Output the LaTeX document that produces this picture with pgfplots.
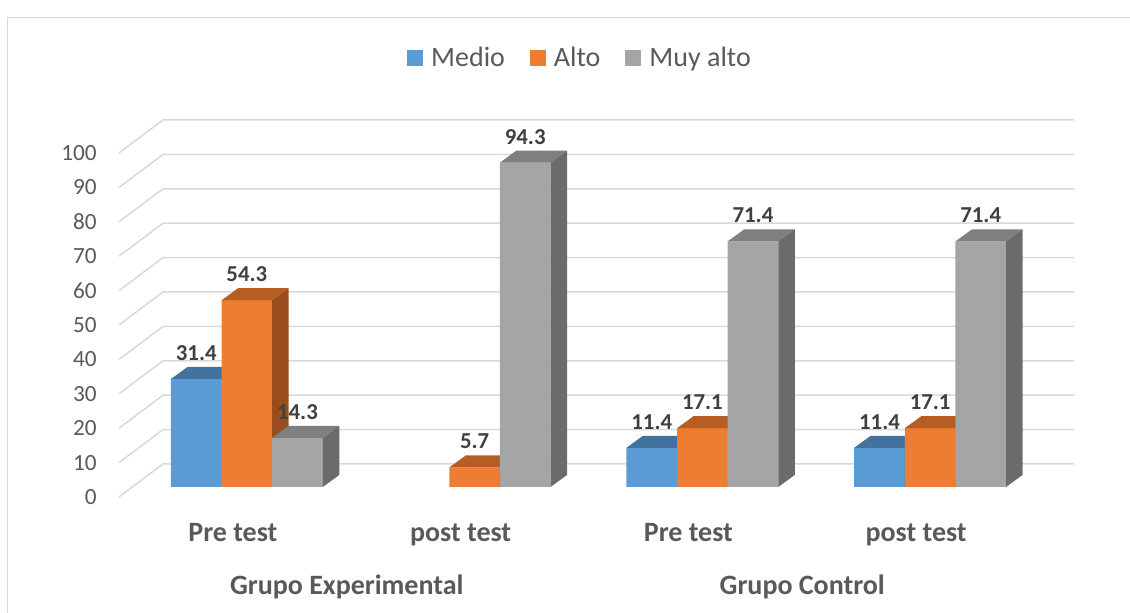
\documentclass[border=0pt]{standalone}
\usepackage{pgfplots}
\pgfplotsset{compat=1.18}
\usepackage{pgfplotstable}
\usepackage{fontspec}
\setmainfont{Carlito}

\definecolor{cBlue}{HTML}{5B9BD5}
\definecolor{cBlueTop}{HTML}{44729E}
\definecolor{cBlueSide}{HTML}{3A6591}
\definecolor{cOrange}{HTML}{ED7D31}
\definecolor{cOrangeTop}{HTML}{B55D22}
\definecolor{cOrangeSide}{HTML}{9A4C1C}
\definecolor{cGray}{HTML}{A5A5A5}
\definecolor{cGrayTop}{HTML}{7F7F7F}
\definecolor{cGraySide}{HTML}{6B6B6B}
\definecolor{cGrid}{HTML}{D9D9D9}
\definecolor{cText}{HTML}{595959}
\definecolor{cLabel}{HTML}{404040}

\pgfplotsset{/pgf/number format/assume math mode=true}

% 3D faces (top and right side) of a bar, drawn at the top centre of its front face
\newcommand\declbar[3]{%
\pgfdeclareplotmark{#1}{%
 \pgfmathsetmacro\bH{-\barval*1.72}%
 \pgfmathsetmacro\bHb{-\barval*1.72+6}%
 \pgfpathmoveto{\pgfpoint{-12.65pt}{0pt}}%
 \pgfpathlineto{\pgfpoint{12.65pt}{0pt}}%
 \pgfpathlineto{\pgfpoint{20.9pt}{6pt}}%
 \pgfpathlineto{\pgfpoint{-4.4pt}{6pt}}%
 \pgfpathclose
 \pgfsetfillcolor{#2}\pgfusepath{fill}%
 \pgfpathmoveto{\pgfpoint{12.65pt}{0pt}}%
 \pgfpathlineto{\pgfpoint{12.65pt}{\bH pt}}%
 \pgfpathlineto{\pgfpoint{20.9pt}{\bHb pt}}%
 \pgfpathlineto{\pgfpoint{20.9pt}{6pt}}%
 \pgfpathclose
 \pgfsetfillcolor{#3}\pgfusepath{fill}%
}}
\declbar{b3blue}{cBlueTop}{cBlueSide}
\declbar{b3orange}{cOrangeTop}{cOrangeSide}
\declbar{b3gray}{cGrayTop}{cGraySide}

\pgfplotstableread{
x medio alto muyalto
0 31.4 54.3 14.3
1 nan 5.7 94.3
2 11.4 17.1 71.4
3 11.4 17.1 71.4
}\datatab

\pgfplotsset{
  front/.style={ybar, bar width=25.3pt, bar shift=0pt, draw=none, forget plot,
    nodes near coords={\pgfmathprintnumber[fixed,fixed zerofill,precision=1]{\pgfplotspointmeta}},
    every node near coord/.append style={font=\bfseries\fontsize{11.4}{13}\selectfont,
      text=cLabel, anchor=base, inner sep=0pt, yshift=9.25pt}},
  faces/.style={only marks, forget plot, scatter,
    scatter/@pre marker code/.code={\scope},
    scatter/@post marker code/.code={\endscope},
    mark=#1},
}

\begin{document}
\begin{tikzpicture}[x=0.5pt,y=0.5pt]
\useasboundingbox (0,0) rectangle (1130,613);
\clip (0,0) rectangle (1130,613);
\draw[cGrid, line width=0.75pt] (7.5,-20) -- (7.5,595.5) -- (1150,595.5);

\begin{axis}[
  at={(59.5pt,58pt)}, anchor=south west, scale only axis,
  width=455.5pt, height=172pt,
  xmin=-0.5, xmax=3.5, ymin=0, ymax=100, clip=false,
  axis line style={draw=none}, major tick length=0pt,
  ytick={0,10,...,100},
  xtick={0,1,2,3}, xticklabels={Pre test,post test,Pre test,post test},
  yticklabel style={anchor=east, inner sep=0pt, xshift=-11pt,
    font=\fontsize{11.6}{14}\selectfont, text=cText},
  xticklabel style={anchor=base, inner sep=0pt, yshift=-22.35pt,
    font=\bfseries\fontsize{14}{16}\selectfont, text=cText},
]
\pgfplotsinvokeforeach{0,10,...,100}{
  \draw[cGrid, line width=0.75pt] (axis cs:-0.5,#1) -- ++(22pt,16.5pt)
     -- ([shift={(22pt,16.5pt)}]axis cs:3.5,#1);
}
\node[anchor=base, inner sep=0pt, yshift=-49pt, font=\bfseries\fontsize{14}{16}\selectfont, text=cText]
  at (axis cs:0.5,0) {Grupo Experimental};
\node[anchor=base, inner sep=0pt, yshift=-49pt, font=\bfseries\fontsize{14}{16}\selectfont, text=cText]
  at (axis cs:2.5,0) {Grupo Control};
\end{axis}

\begin{axis}[
  at={(66.5pt,63pt)}, anchor=south west, scale only axis,
  width=455.5pt, height=172pt,
  xmin=-0.5, xmax=3.5, ymin=0, ymax=100, clip=false,
  clip marker paths=true,
  hide axis,
  legend columns=3,
  legend image code/.code={\fill[#1] (0pt,-4pt) rectangle (8pt,4pt);},
  legend style={at={(0.4896,1.247)}, anchor=center, draw=none, fill=none,
    font=\fontsize{14}{16}\selectfont, text=cText,
    nodes={inner sep=0pt},
    /tikz/every odd column/.append style={column sep=4pt},
    /tikz/every even column/.append style={column sep=12.5pt}},
]
\addlegendimage{draw=none, fill=cBlue}\addlegendentry{Medio}
\addlegendimage{draw=none, fill=cOrange}\addlegendentry{Alto}
\addlegendimage{draw=none, fill=cGray}\addlegendentry{Muy alto}

\addplot[front, fill=cBlue] table[x expr=\thisrow{x}-0.2222, y=medio]{\datatab};
\addplot[faces=b3blue, visualization depends on={\thisrow{medio}\as\barval}]
  table[x expr=\thisrow{x}-0.2222, y=medio]{\datatab};

\addplot[front, fill=cOrange] table[x expr=\thisrow{x}, y=alto]{\datatab};
\addplot[faces=b3orange, visualization depends on={\thisrow{alto}\as\barval}]
  table[x expr=\thisrow{x}, y=alto]{\datatab};

\addplot[front, fill=cGray] table[x expr=\thisrow{x}+0.2222, y=muyalto]{\datatab};
\addplot[faces=b3gray, visualization depends on={\thisrow{muyalto}\as\barval}]
  table[x expr=\thisrow{x}+0.2222, y=muyalto]{\datatab};
\end{axis}
\end{tikzpicture}
\end{document}
